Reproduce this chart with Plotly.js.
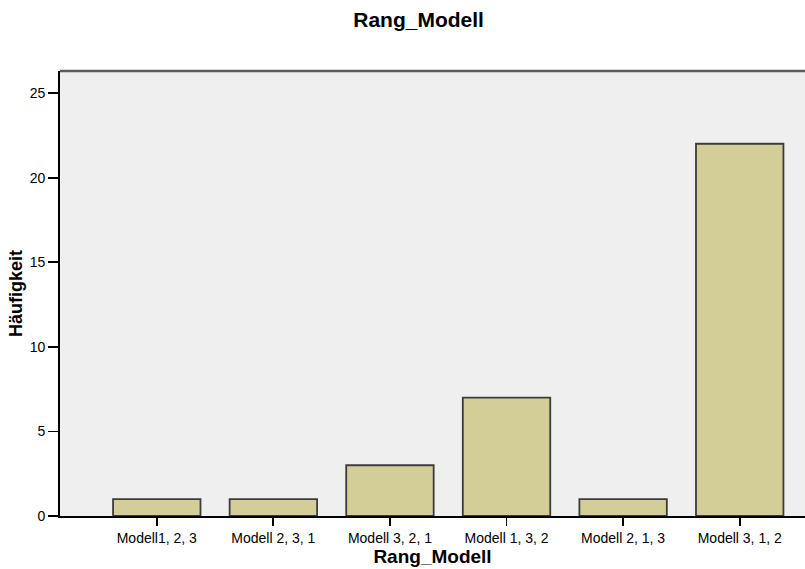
<!DOCTYPE html>
<html>
<head>
<meta charset="utf-8">
<script src="https://cdn.plot.ly/plotly-3.0.1.min.js"></script>
<style>html,body{margin:0;padding:0;background:#fff;}#chart{width:805px;height:569px;}</style>
</head>
<body>
<div id="chart"></div>
<script>
const categories = ["Modell1, 2, 3", "Modell 2, 3, 1", "Modell 3, 2, 1", "Modell 1, 3, 2", "Modell 2, 1, 3", "Modell 3, 1, 2"];
const counts = [1, 1, 3, 7, 1, 22];
const yTicks = [0, 5, 10, 15, 20, 25];

const font = "Liberation Sans, Arial, sans-serif";
const trace = {
  type: "bar",
  x: categories,
  y: counts,
  width: 0.75,
  marker: {color: "#D3CE97", line: {color: "#3C3C3C", width: 1.8}},
  hoverinfo: "x+y"
};
const layout = {
  width: 805, height: 569,
  margin: {l: 60, r: 0, t: 71, b: 53},
  paper_bgcolor: "#FFFFFF",
  plot_bgcolor: "#EFEFEF",
  showlegend: false,
  title: {text: "<b>Rang_Modell</b>", font: {family: font, size: 21, color: "#000"}, x: 0.52, xanchor: "center", y: 0.965, yanchor: "middle"},
  xaxis: {
    type: "category",
    range: [-0.83, 5.56],
    showgrid: false, zeroline: false,
    showline: true, linecolor: "#000", linewidth: 1.8,
    ticks: "outside", ticklen: 8, tickwidth: 1.8, tickcolor: "#000",
    tickfont: {family: font, size: 14, color: "#000"},
    title: {text: "<b>Rang_Modell</b>", font: {family: font, size: 19, color: "#000"}, standoff: 2}
  },
  yaxis: {
    range: [0, 26.3],
    tickvals: yTicks,
    ticktext: yTicks.map(String),
    showgrid: false, zeroline: false,
    showline: true, linecolor: "#000", linewidth: 1.8,
    ticks: "outside", ticklen: 10, tickwidth: 1.8, tickcolor: "#000",
    tickfont: {family: font, size: 14, color: "#000"},
    title: {text: "<b>Häufigkeit</b>", font: {family: font, size: 18, color: "#000"}, standoff: 2}
  },
  shapes: [{type: "line", xref: "paper", yref: "paper", x0: 0, x1: 1, y0: 1, y1: 1, line: {color: "#5A5A5A", width: 2.5}}]
};
Plotly.newPlot("chart", [trace], layout, {displayModeBar: false, staticPlot: true});
</script>
</body>
</html>
